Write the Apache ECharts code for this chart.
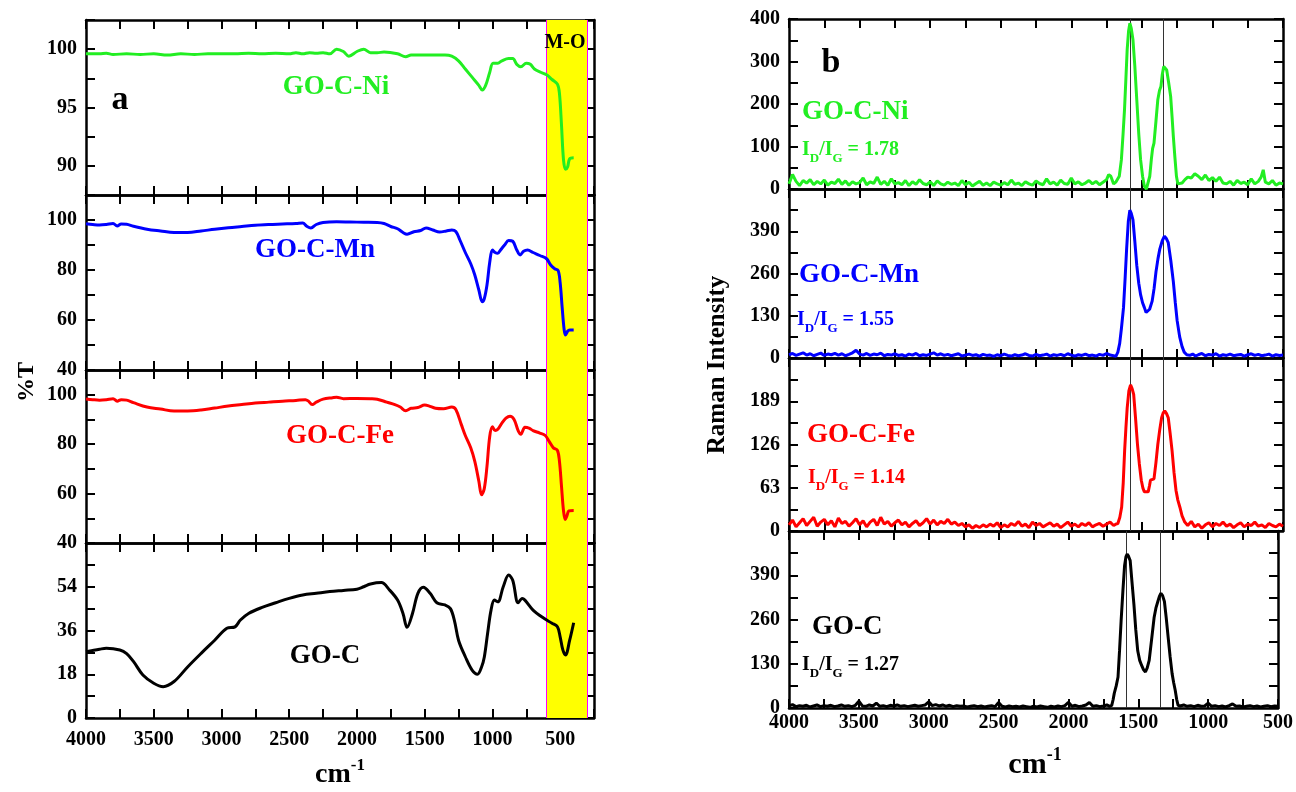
<!DOCTYPE html>
<html><head><meta charset="utf-8">
<script src="https://cdn.jsdelivr.net/npm/echarts@6/dist/echarts.min.js"></script>
<style>html,body{margin:0;padding:0;background:#fff}#c{width:1296px;height:792px}</style>
</head><body><div id="c"></div>
<script>
// ---------------- FTIR (panel a) : [wavenumber, %T] ----------------
const ftirNi = [[4000,99.6],[3900,99.6],[3850,99.65],[3800,99.55],[3700,99.6],[3600,99.55],[3500,99.6],[3400,99.5],[3300,99.6],[3200,99.55],[3100,99.6],[3000,99.6],[2900,99.6],[2800,99.65],[2700,99.6],[2600,99.65],[2500,99.6],[2450,99.7],[2400,99.6],[2350,99.7],[2300,99.65],[2250,99.7],[2200,99.6],[2150,100.0],[2100,99.8],[2060,99.4],[2000,99.8],[1950,100.0],[1900,99.7],[1850,99.7],[1800,99.75],[1700,99.6],[1640,99.35],[1600,99.5],[1550,99.5],[1450,99.5],[1350,99.5],[1300,99.4],[1250,99.0],[1200,98.3],[1150,97.6],[1100,96.9],[1075,96.5],[1050,96.9],[1020,98.0],[995,98.8],[960,98.8],[930,99.0],[880,99.2],[850,99.2],[820,98.7],[790,98.5],[750,98.8],[720,98.7],[690,98.3],[640,98.0],[600,97.8],[560,97.4],[520,97.0],[505,96.2],[490,93.5],[475,90.5],[460,89.7],[445,89.9],[430,90.6],[400,90.7]];
const ftirMn = [[4000,98.5],[3950,98.2],[3900,98.0],[3850,98.2],[3800,98.6],[3770,97.6],[3740,98.4],[3700,98.3],[3650,97.5],[3550,96.3],[3450,95.6],[3350,95.0],[3250,95.0],[3150,95.6],[3050,96.3],[2950,96.9],[2850,97.4],[2750,97.9],[2650,98.2],[2550,98.4],[2450,98.6],[2400,98.8],[2370,97.5],[2340,96.8],[2300,98.2],[2250,99.0],[2150,99.3],[2050,99.2],[1950,99.1],[1850,99.0],[1800,98.6],[1750,97.4],[1700,96.5],[1660,95.0],[1630,94.3],[1580,95.3],[1530,95.8],[1490,96.8],[1440,96.0],[1390,95.2],[1340,95.6],[1300,96.0],[1270,95.4],[1240,92.0],[1200,87.0],[1160,82.5],[1130,78.0],[1100,72.0],[1075,67.3],[1060,68.5],[1040,74.0],[1020,83.0],[1000,88.0],[980,87.0],[960,86.7],[940,88.0],[910,90.0],[880,91.8],[850,91.5],[820,88.0],[795,86.0],[770,87.5],[740,88.0],[700,87.0],[650,85.8],[600,84.5],[570,82.0],[540,80.5],[515,79.8],[500,75.0],[485,65.0],[470,56.0],[460,54.0],[445,55.5],[430,56.0],[400,56.0]];
const ftirFe = [[4000,98.3],[3950,98.0],[3900,97.8],[3850,98.0],[3800,98.4],[3770,97.4],[3740,98.0],[3700,97.8],[3650,96.8],[3550,95.0],[3450,94.2],[3350,93.4],[3250,93.4],[3150,93.8],[3050,94.6],[2950,95.4],[2850,96.0],[2750,96.6],[2650,97.0],[2550,97.4],[2450,97.7],[2380,98.0],[2360,97.5],[2330,96.0],[2300,97.0],[2250,98.2],[2180,98.8],[2150,99.0],[2100,98.4],[2000,98.5],[1900,98.4],[1850,98.2],[1780,97.0],[1720,96.0],[1680,95.0],[1640,93.5],[1600,94.5],[1550,94.8],[1500,95.8],[1470,95.5],[1420,94.5],[1360,94.3],[1300,95.0],[1270,94.0],[1230,88.0],[1200,83.5],[1160,78.5],[1130,73.0],[1100,65.0],[1080,59.5],[1060,62.0],[1040,71.0],[1020,83.0],[1000,87.0],[980,85.5],[960,86.0],[930,88.5],[900,90.5],[870,91.3],[840,90.0],[810,85.5],[790,84.0],[760,86.8],[730,86.5],[700,85.5],[650,84.5],[610,83.5],[580,81.0],[550,78.5],[520,77.5],[505,73.0],[490,63.0],[475,53.0],[462,49.5],[450,51.0],[435,53.0],[400,53.2]];
const ftirGOC = [[4000,27.3],[3900,28.3],[3850,28.7],[3750,28.0],[3700,26.5],[3650,23.3],[3580,17.7],[3500,14.3],[3430,12.9],[3350,15.0],[3250,21.0],[3150,26.6],[3050,32.0],[2960,36.9],[2900,37.5],[2860,40.3],[2800,43.0],[2700,45.5],[2600,47.4],[2500,49.2],[2400,50.6],[2300,51.3],[2200,52.0],[2100,52.5],[2000,53.0],[1950,54.0],[1900,55.1],[1820,55.7],[1760,52.7],[1700,48.5],[1660,43.0],[1630,37.3],[1590,43.0],[1550,51.3],[1510,53.8],[1460,51.3],[1410,47.4],[1350,46.5],[1310,45.0],[1280,40.0],[1250,32.0],[1200,25.2],[1150,19.7],[1110,18.0],[1080,21.0],[1060,25.0],[1035,35.0],[1010,44.4],[985,48.5],[960,47.8],[920,54.0],[880,58.8],[850,56.7],[810,47.4],[780,49.2],[760,48.5],[700,44.4],[620,41.0],[560,39.0],[520,37.5],[500,33.4],[480,28.0],[460,25.9],[430,31.9],[400,39.2]];

// ---------------- Raman (panel b) : [wavenumber, intensity] ----------------
const ramanNi = [[4000,12],[3975,34],[3950,18],[3925,8],[3900,20],[3875,14],[3850,22],[3825,10],[3800,18],[3775,12],[3750,21],[3725,9],[3700,16],[3675,13],[3650,23],[3625,11],[3600,19],[3575,9],[3550,17],[3525,12],[3500,15],[3475,26],[3450,10],[3425,17],[3400,13],[3375,28],[3350,11],[3325,18],[3300,9],[3275,24],[3250,12],[3225,15],[3200,10],[3175,20],[3150,8],[3125,17],[3100,11],[3075,22],[3050,13],[3025,10],[3000,17],[2975,8],[2950,19],[2925,12],[2900,9],[2875,16],[2850,11],[2825,14],[2800,8],[2775,20],[2750,10],[2725,16],[2700,7],[2675,13],[2650,18],[2625,9],[2600,14],[2575,8],[2550,16],[2525,12],[2500,9],[2475,15],[2450,10],[2425,21],[2400,11],[2375,14],[2350,8],[2325,17],[2300,12],[2275,9],[2250,19],[2225,13],[2200,10],[2175,24],[2150,12],[2125,16],[2100,9],[2075,21],[2050,13],[2025,11],[2000,26],[1975,12],[1950,17],[1925,10],[1900,14],[1875,20],[1850,12],[1825,18],[1800,10],[1775,16],[1750,22],[1735,34],[1720,30],[1700,12],[1685,16],[1672,14],[1660,30],[1645,69],[1633,130],[1623,186],[1613,260],[1604,328],[1594,372],[1585,390],[1575,378],[1563,351],[1550,290],[1536,210],[1522,130],[1509,69],[1495,30],[1482,6],[1468,0],[1455,0],[1444,30],[1433,69],[1424,95],[1414,108],[1400,160],[1387,210],[1375,232],[1365,241],[1355,270],[1345,288],[1335,286],[1324,280],[1310,250],[1296,218],[1286,170],[1277,124],[1266,75],[1255,30],[1245,12],[1236,8],[1215,14],[1195,22],[1175,28],[1150,26],[1125,36],[1100,30],[1075,22],[1050,33],[1025,20],[1000,27],[975,18],[950,28],[925,14],[900,12],[875,18],[850,9],[825,20],[800,13],[775,16],[750,10],[725,24],[700,12],[675,18],[655,28],[640,45],[625,16],[600,12],[575,20],[550,9],[525,14],[500,12]];
const ramanMn = [[4000,10],[3975,14],[3950,8],[3925,12],[3900,16],[3875,9],[3850,13],[3825,7],[3800,11],[3775,15],[3750,8],[3725,12],[3700,10],[3675,14],[3650,9],[3625,13],[3600,7],[3575,11],[3550,16],[3525,24],[3500,12],[3475,9],[3450,14],[3425,8],[3400,12],[3375,10],[3350,15],[3325,7],[3300,11],[3275,9],[3250,13],[3225,8],[3200,10],[3175,6],[3150,12],[3125,9],[3100,14],[3075,7],[3050,10],[3025,8],[3000,12],[2975,16],[2950,9],[2925,13],[2900,8],[2875,11],[2850,7],[2825,10],[2800,13],[2775,6],[2750,9],[2725,12],[2700,8],[2675,10],[2650,6],[2625,11],[2600,8],[2575,9],[2550,5],[2525,10],[2500,7],[2475,12],[2450,8],[2425,6],[2400,10],[2375,7],[2350,9],[2325,13],[2300,8],[2275,6],[2250,11],[2225,7],[2200,9],[2175,12],[2150,6],[2125,10],[2100,8],[2075,11],[2050,7],[2025,13],[2000,9],[1975,6],[1950,10],[1925,8],[1900,12],[1875,7],[1850,9],[1825,6],[1800,11],[1775,8],[1750,14],[1725,9],[1700,7],[1684,5],[1670,18],[1657,45],[1645,90],[1630,155],[1618,250],[1608,335],[1596,420],[1585,455],[1575,445],[1563,425],[1550,360],[1536,285],[1522,230],[1509,195],[1495,170],[1482,155],[1470,140],[1460,135],[1445,150],[1427,175],[1413,215],[1400,265],[1386,305],[1373,335],[1356,360],[1340,375],[1327,368],[1313,355],[1295,300],[1277,235],[1263,170],[1250,115],[1232,65],[1215,35],[1200,18],[1182,10],[1160,8],[1140,12],[1120,6],[1100,10],[1075,14],[1050,7],[1025,11],[1000,9],[975,13],[950,6],[925,10],[900,8],[875,12],[850,7],[825,9],[800,11],[775,6],[750,10],[725,13],[700,8],[675,11],[650,7],[625,9],[600,12],[575,6],[550,10],[525,8],[500,9]];
const ramanFe = [[4000,9],[3975,16],[3950,6],[3925,12],[3900,18],[3875,8],[3850,14],[3825,20],[3800,7],[3775,13],[3750,17],[3725,9],[3700,15],[3675,6],[3650,19],[3625,11],[3600,14],[3575,7],[3550,12],[3525,18],[3500,9],[3475,15],[3450,6],[3425,13],[3400,17],[3375,8],[3350,20],[3325,10],[3300,14],[3275,7],[3250,12],[3225,16],[3200,9],[3175,13],[3150,6],[3125,11],[3100,15],[3075,8],[3050,12],[3025,18],[3000,10],[2975,16],[2950,9],[2925,14],[2900,11],[2875,17],[2850,10],[2825,13],[2800,8],[2775,11],[2750,6],[2725,9],[2700,4],[2675,8],[2650,5],[2625,9],[2600,6],[2575,10],[2550,7],[2525,12],[2500,5],[2475,9],[2450,6],[2425,11],[2400,8],[2375,14],[2350,7],[2325,10],[2300,5],[2275,13],[2250,8],[2225,11],[2200,6],[2175,9],[2150,12],[2125,7],[2100,10],[2075,5],[2050,9],[2025,13],[2000,7],[1975,10],[1950,6],[1925,11],[1900,8],[1875,12],[1850,6],[1825,9],[1800,11],[1775,7],[1750,10],[1725,13],[1700,8],[1685,10],[1670,11],[1656,20],[1643,35],[1632,70],[1622,117],[1613,150],[1604,179],[1592,204],[1580,213],[1570,208],[1558,199],[1545,165],[1531,126],[1518,98],[1504,74],[1492,62],[1482,57],[1468,55],[1455,57],[1446,66],[1439,74],[1426,76],[1414,76],[1400,100],[1387,126],[1373,148],[1360,165],[1349,172],[1338,175],[1325,171],[1313,165],[1300,143],[1286,117],[1272,85],[1258,59],[1245,45],[1231,35],[1215,22],[1196,13],[1175,8],[1150,14],[1125,6],[1100,10],[1075,4],[1050,9],[1025,12],[1000,6],[975,11],[950,8],[925,13],[900,7],[875,10],[850,5],[825,9],[800,12],[775,6],[750,10],[725,8],[700,13],[675,7],[650,9],[625,5],[600,11],[575,8],[550,6],[525,10],[500,7]];
const ramanGOC = [[4000,6],[3975,10],[3950,4],[3925,7],[3900,5],[3875,8],[3850,3],[3825,6],[3800,9],[3775,4],[3750,7],[3725,5],[3700,8],[3675,4],[3650,6],[3625,9],[3600,5],[3575,7],[3550,4],[3525,8],[3500,20],[3475,6],[3450,5],[3425,9],[3400,6],[3375,14],[3350,5],[3325,7],[3300,4],[3275,8],[3250,6],[3225,9],[3200,5],[3175,7],[3150,4],[3125,6],[3100,8],[3075,5],[3050,7],[3025,9],[3000,18],[2975,7],[2950,10],[2925,6],[2900,9],[2875,5],[2850,8],[2825,4],[2800,7],[2775,5],[2750,6],[2725,3],[2700,5],[2675,7],[2650,4],[2625,6],[2600,3],[2575,5],[2550,7],[2525,4],[2500,16],[2475,5],[2450,3],[2425,6],[2400,4],[2375,5],[2350,3],[2325,6],[2300,4],[2275,2],[2250,5],[2225,3],[2200,6],[2175,4],[2150,2],[2125,5],[2100,3],[2075,6],[2050,4],[2025,7],[2000,17],[1975,5],[1950,8],[1925,4],[1900,6],[1875,9],[1850,16],[1825,5],[1800,7],[1775,4],[1750,6],[1725,9],[1705,5],[1690,8],[1680,25],[1672,43],[1658,65],[1645,91],[1634,170],[1623,255],[1610,345],[1598,419],[1588,445],[1580,452],[1570,446],[1558,433],[1545,370],[1531,303],[1518,230],[1504,168],[1490,140],[1476,125],[1462,112],[1449,106],[1436,118],[1422,140],[1405,200],[1387,265],[1373,295],[1360,313],[1349,328],[1338,337],[1326,330],[1313,313],[1300,265],[1286,207],[1272,150],[1258,101],[1247,75],[1236,53],[1225,25],[1215,8],[1200,6],[1175,9],[1150,5],[1125,7],[1100,4],[1075,8],[1050,5],[1025,6],[1000,14],[975,5],[950,7],[925,4],[900,6],[875,3],[850,7],[825,12],[800,5],[775,6],[750,3],[725,5],[700,7],[675,4],[650,6],[625,3],[600,5],[575,7],[550,4],[525,6],[500,5]];

// band / reference positions (data units)
const moBand = [600, 300];           // M-O region, cm-1
const ramanLines = [1585, 1345];     // G and D band guide lines

const GREEN = '#22ee22', BLUE = '#0000ff', RED = '#ff0000', BLACK = '#000000';
const FONT = '"Liberation Serif","Times New Roman",serif';

const panels = [
  { left: 86, width: 508, xmin: 250, xmax: 4000, xint: 250, xlab: 500, smooth: 0.35, band: true, xmargin: 12,
    rows: [
      { top: 20,  height: 175, ymin: 87.5, ymax: 102.5, yint: 2.5, ylab: 5,  showMax: false, data: ftirNi, color: GREEN },
      { top: 195, height: 175, ymin: 40,   ymax: 110,   yint: 10,  ylab: 20, showMax: false, data: ftirMn, color: BLUE },
      { top: 370, height: 173, ymin: 40,   ymax: 110,   yint: 10,  ylab: 20, showMax: false, data: ftirFe, color: RED },
      { top: 543, height: 175, ymin: 0,    ymax: 72,    yint: 9,   ylab: 18, showMax: false, data: ftirGOC, color: BLACK }
    ] },
  { left: 789, width: 494, xmin: 500, xmax: 4000, xint: 250, xlab: 500, smooth: false, band: false, xmargin: 5,
    rows: [
      { top: 19,  height: 170, ymin: 0, ymax: 400, yint: 50,   ylab: 100, showMax: true,  data: ramanNi, color: GREEN },
      { top: 189, height: 169, ymin: 0, ymax: 520, yint: 65,   ylab: 130, showMax: false, data: ramanMn, color: BLUE },
      { top: 358, height: 173, ymin: 0, ymax: 252, yint: 31.5, ylab: 63,  showMax: false, data: ramanFe, color: RED },
      { top: 531, height: 177, ymin: 0, ymax: 520, yint: 65,   ylab: 130, showMax: false, data: ramanGOC, color: BLACK }
    ] }
];

function isMult(v, m) { const r = v / m; return Math.abs(r - Math.round(r)) < 1e-6; }

const grid = [], xAxis = [], yAxis = [], series = [];
const axisLineStyle = { lineStyle: { color: '#000', width: 2.5 } };
const tickStyle = { show: true, inside: true, length: 9, lineStyle: { color: '#000', width: 2 } };
const labelFont = { fontFamily: FONT, fontWeight: 'bold', fontSize: 20, color: '#000' };

panels.forEach(function (p) {
  p.rows.forEach(function (r, ri) {
    const gi = grid.length;
    grid.push({ left: p.left, width: p.width, top: r.top, height: r.height, containLabel: false });
    const last = ri === p.rows.length - 1;
    const xb = {
      type: 'value', gridIndex: gi, position: 'bottom', inverse: true, min: p.xmin, max: p.xmax, interval: p.xint,
      axisLine: Object.assign({ show: true, onZero: false }, axisLineStyle), axisTick: tickStyle, splitLine: { show: false },
      axisLabel: Object.assign({ show: last, margin: p.xmargin, interval: 0, showMinLabel: true, showMaxLabel: true,
        formatter: function (v) { return (isMult(v, p.xlab) && v >= p.xlab) ? String(v) : ''; } }, labelFont)
    };
    const xt = {
      type: 'value', gridIndex: gi, position: 'top', inverse: true, min: p.xmin, max: p.xmax, interval: p.xint,
      axisLine: Object.assign({ show: true, onZero: false }, axisLineStyle), axisTick: tickStyle, splitLine: { show: false },
      axisLabel: { show: false }
    };
    const xi = xAxis.length; xAxis.push(xb, xt);
    const yl = {
      type: 'value', gridIndex: gi, position: 'left', min: r.ymin, max: r.ymax, interval: r.yint,
      axisLine: Object.assign({ show: true, onZero: false }, axisLineStyle), axisTick: tickStyle, splitLine: { show: false },
      axisLabel: Object.assign({ show: true, margin: 9, interval: 0, showMinLabel: true, showMaxLabel: true,
        formatter: function (v) { return (isMult(v, r.ylab) && (r.showMax || v < r.ymax - 1e-6)) ? String(v) : ''; } }, labelFont)
    };
    const yr = {
      type: 'value', gridIndex: gi, position: 'right', min: r.ymin, max: r.ymax, interval: r.yint,
      axisLine: Object.assign({ show: true, onZero: false }, axisLineStyle), axisTick: tickStyle, splitLine: { show: false },
      axisLabel: { show: false }
    };
    const yi = yAxis.length; yAxis.push(yl, yr);
    const s = {
      type: 'line', xAxisIndex: xi, yAxisIndex: yi, data: r.data, symbol: 'none', showSymbol: false,
      smooth: p.smooth, lineStyle: { color: r.color, width: 3 }, itemStyle: { color: r.color },
      animation: false, silent: true, z: 5
    };
    if (p.band) {
      s.markArea = { silent: true, itemStyle: { color: '#ffff00', opacity: 1 },
        data: [[{ xAxis: moBand[0] }, { xAxis: moBand[1] }]] };
      s.markLine = { silent: true, symbol: ['none', 'none'], label: { show: false }, animation: false,
        lineStyle: { color: '#ff00ff', width: 1, type: 'solid' },
        data: [{ xAxis: moBand[0] }, { xAxis: moBand[1] }] };
    } else {
      s.markLine = { silent: true, symbol: ['none', 'none'], label: { show: false }, animation: false,
        lineStyle: { color: '#333', width: 1, type: 'solid' },
        data: ramanLines.map(function (v) { return { xAxis: v }; }) };
    }
    series.push(s);
  });
});

function txt(x, y, text, color, size, align) {
  return { type: 'text', x: x, y: y, z: 100, silent: true,
    style: { text: text, fill: color, font: 'bold ' + size + 'px ' + FONT, align: align || 'center', verticalAlign: 'middle' } };
}
function ratio(x, y, val, color) {
  return { type: 'text', x: x, y: y, z: 100, silent: true,
    style: { text: '{m|I}{s|D}{m|/I}{s|G}{m| = ' + val + '}', fill: color, align: 'left', verticalAlign: 'middle',
      rich: {
        m: { fontFamily: FONT, fontWeight: 'bold', fontSize: 20, lineHeight: 30, fill: color, verticalAlign: 'middle' },
        s: { fontFamily: FONT, fontWeight: 'bold', fontSize: 13, lineHeight: 30, fill: color, verticalAlign: 'bottom' }
      } } };
}
function cm(x, y, size) {
  return { type: 'text', x: x, y: y, z: 100, silent: true,
    style: { text: '{m|cm}{s|-1}', fill: '#000', align: 'center', verticalAlign: 'middle',
      rich: {
        m: { fontFamily: FONT, fontWeight: 'bold', fontSize: size, lineHeight: size + 8, verticalAlign: 'middle' },
        s: { fontFamily: FONT, fontWeight: 'bold', fontSize: Math.round(size * 0.6), lineHeight: size + 8, verticalAlign: 'top' }
      } } };
}

const graphic = [
  txt(120, 100, 'a', '#000', 34),
  txt(336, 87, 'GO-C-Ni', GREEN, 27),
  txt(315, 250, 'GO-C-Mn', BLUE, 27),
  txt(340, 436, 'GO-C-Fe', RED, 27),
  txt(325, 656, 'GO-C', BLACK, 27),
  txt(565, 43, 'M-O', '#000', 20),
  { type: 'text', x: 27, y: 382, rotation: Math.PI / 2, z: 100, silent: true,
    style: { text: '%T', fill: '#000', font: 'bold 24px ' + FONT, align: 'center', verticalAlign: 'middle' } },
  cm(340, 775, 28),
  txt(831, 63, 'b', '#000', 34),
  txt(802, 112, 'GO-C-Ni', GREEN, 27, 'left'),
  ratio(802, 150, '1.78', GREEN),
  txt(799, 275, 'GO-C-Mn', BLUE, 27, 'left'),
  ratio(797, 320, '1.55', BLUE),
  txt(807, 435, 'GO-C-Fe', RED, 27, 'left'),
  ratio(808, 478, '1.14', RED),
  txt(812, 627, 'GO-C', BLACK, 27, 'left'),
  ratio(802, 665, '1.27', BLACK),
  { type: 'text', x: 718, y: 365, rotation: Math.PI / 2, z: 100, silent: true,
    style: { text: 'Raman Intensity', fill: '#000', font: 'bold 25px ' + FONT, align: 'center', verticalAlign: 'middle' } },
  cm(1035, 765, 30)
];

const chart = echarts.init(document.getElementById('c'), null, { renderer: 'canvas', width: 1296, height: 792 });
chart.setOption({ backgroundColor: '#ffffff', animation: false, grid: grid, xAxis: xAxis, yAxis: yAxis, series: series, graphic: graphic });
</script>
</body></html>
